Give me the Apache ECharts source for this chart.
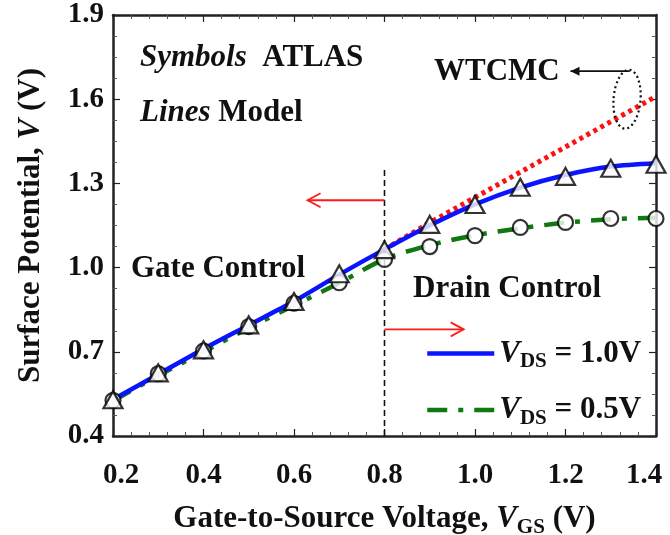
<!DOCTYPE html>
<html>
<head>
<meta charset="utf-8">
<script src="https://cdn.jsdelivr.net/npm/echarts@6/dist/echarts.min.js"></script>
<style>
html,body{margin:0;padding:0;background:#fff;}
#c{width:670px;height:535px;}
</style>
</head>
<body>
<div id="c"></div>
<script>
// ---- data ----
var vgs = [0.2,0.3,0.4,0.5,0.6,0.7,0.8,0.9,1.0,1.1,1.2,1.3,1.4];
var atlasVds10 = [0.529,0.625,0.707,0.796,0.879,0.978,1.064,1.154,1.225,1.286,1.325,1.354,1.368];
var atlasVds05 = [0.527,0.622,0.703,0.790,0.873,0.946,1.029,1.075,1.114,1.143,1.161,1.175,1.175];
var modelVds10 = [0.530,0.620,0.710,0.795,0.880,0.975,1.065,1.150,1.225,1.285,1.330,1.360,1.372];
var modelVds05 = [0.525,0.615,0.700,0.785,0.865,0.945,1.030,1.080,1.115,1.140,1.160,1.172,1.178];
var wtcmcVgs = [0.8,0.9,1.0,1.1,1.2,1.3,1.4];
var wtcmcVal = [1.065,1.160,1.250,1.340,1.430,1.520,1.610];
var xTicks = [0.2,0.4,0.6,0.8,1.0,1.2,1.4];
var yTicks = [0.4,0.7,1.0,1.3,1.6,1.9];
// annotation anchors (data units)
var dividerX = 0.8, dividerY = [0.4, 1.35];
var gateArrow = {y: 1.24, from: 0.8, to: 0.63};
var drainArrow = {y: 0.78, from: 0.8, to: 0.975};
var wtcmcArrow = {y: 1.70, from: 1.342, to: 1.211};
var wtcmcEllipse = {x: 1.336, y: 1.60};

function pairs(xs, ys){ return xs.map(function(x,i){ return [x, ys[i]]; }); }

var FONT = 'Liberation Serif';
var chart = echarts.init(document.getElementById('c'), null, {renderer:'canvas'});

var axisCommon = {
  axisLine:{show:true, onZero:false, lineStyle:{color:'#222', width:2.5}},
  axisTick:{show:true, inside:true, length:7, lineStyle:{color:'#222', width:1.2}},
  splitLine:{show:false}
};

var richName = {
  b:{fontFamily:FONT, fontWeight:'bold', fontSize:31, color:'#111', lineHeight:38},
  i:{fontFamily:FONT, fontWeight:'bold', fontStyle:'italic', fontSize:31, color:'#111', lineHeight:38},
  s:{fontFamily:FONT, fontWeight:'bold', fontSize:21, color:'#111', lineHeight:21, verticalAlign:'bottom'}
};
var tickRich = {
  n:{fontFamily:FONT, fontWeight:'bold', fontSize:29, color:'#111'},
  l:{fontFamily:FONT, fontWeight:'bold', fontSize:29, color:'#111', padding:[0,0,0,16]},
  r:{fontFamily:FONT, fontWeight:'bold', fontSize:29, color:'#111', padding:[0,24,0,0]}
};

var option = {
  animation:false,
  backgroundColor:'#fff',
  grid:{left:113, right:14, top:15, bottom:99, containLabel:false, outerBoundsMode:'none'},
  xAxis:[
    Object.assign({}, axisCommon, {
      type:'value', min:xTicks[0], max:xTicks[xTicks.length-1], interval:0.2,
      minorTick:{show:true, splitNumber:5, length:4, lineStyle:{color:'#555', width:1}},
      axisLabel:{margin:25, fontFamily:FONT, fontWeight:'bold', fontSize:29, color:'#111', rich:tickRich,
        formatter:function(v){
          var t = v.toFixed(1);
          if (Math.abs(v - xTicks[0]) < 1e-6) return '{l|' + t + '}';
          if (Math.abs(v - xTicks[xTicks.length-1]) < 1e-6) return '{r|' + t + '}';
          return '{n|' + t + '}';
        }},
      name:'{b|Gate-to-Source Voltage, }{i|V}{s|GS}{b| (V)}',
      nameLocation:'middle', nameGap:64,
      nameTextStyle:{rich:richName}
    }),
    Object.assign({}, axisCommon, {
      type:'value', position:'top', min:xTicks[0], max:xTicks[xTicks.length-1], interval:0.2,
      minorTick:{show:true, splitNumber:5, length:4, lineStyle:{color:'#555', width:1}},
      axisLabel:{show:false}
    })
  ],
  yAxis:[
    Object.assign({}, axisCommon, {
      type:'value', min:yTicks[0], max:yTicks[yTicks.length-1], interval:0.3,
      minorTick:{show:true, splitNumber:4, length:4, lineStyle:{color:'#555', width:1}},
      axisLabel:{margin:9, fontFamily:FONT, fontWeight:'bold', fontSize:29, color:'#111',
        formatter:function(v){ return v.toFixed(1); }},
      name:'{b|Surface Potential, }{i|V}{b| (V)}',
      nameLocation:'middle', nameGap:63, nameRotate:90,
      nameTextStyle:{rich:richName}
    }),
    Object.assign({}, axisCommon, {
      type:'value', position:'right', min:yTicks[0], max:yTicks[yTicks.length-1], interval:0.3,
      minorTick:{show:true, splitNumber:4, length:4, lineStyle:{color:'#555', width:1}},
      axisLabel:{show:false}
    })
  ],
  legend:{
    orient:'vertical', left:420, top:333, itemWidth:67, itemHeight:14, itemGap:22,
    data:['m10','m05'],
    itemStyle:{opacity:0},
    lineStyle:{width:4.5},
    formatter:function(n){
      return n === 'm10' ? '{i|V}{s|DS}{b| = 1.0V}' : '{i|V}{s|DS}{b| = 0.5V}';
    },
    textStyle:{rich:richName}
  },
  series:[
    {name:'wtcmc', type:'line', data:pairs(wtcmcVgs, wtcmcVal), showSymbol:false, symbol:'none',
      lineStyle:{color:'#ff1010', width:5, type:[4,4]}, z:3},
    {name:'m05', type:'line', data:pairs(vgs, modelVds05), smooth:0.3, showSymbol:false, symbol:'none',
      lineStyle:{color:'#117711', width:4.5, type:[20,11,5,11]}, itemStyle:{color:'#117711'}, z:4},
    {name:'m10', type:'line', data:pairs(vgs, modelVds10), smooth:0.3, showSymbol:false, symbol:'none',
      lineStyle:{color:'#0a14ff', width:4.5}, itemStyle:{color:'#0a14ff'}, z:5},
    {name:'divider', type:'line', data:[[dividerX, dividerY[0]],[dividerX, dividerY[1]]], symbol:'none',
      lineStyle:{color:'#111', width:1.6, type:[6,4]}, z:2},
    {name:'a05', type:'scatter', data:pairs(vgs, atlasVds05), symbol:'circle', symbolSize:15,
      itemStyle:{color:'#fff', borderColor:'#000', borderWidth:2.2}, z:6},
    {name:'a10', type:'scatter', data:pairs(vgs, atlasVds10), symbol:'triangle', symbolSize:[19,17],
      itemStyle:{color:'#fff', borderColor:'#000', borderWidth:2.2}, z:7}
  ]
};
chart.setOption(option);

function px(x, y){ return chart.convertToPixel({xAxisIndex:0, yAxisIndex:0}, [x, y]); }

function hArrow(a, color, filled){
  var p0 = px(a.from, a.y), p1 = px(a.to, a.y);
  var dir = p1[0] < p0[0] ? 1 : -1; // head opens back toward start
  var els = [{type:'line', shape:{x1:p0[0], y1:p0[1], x2:p1[0], y2:p1[1]}, style:{stroke:color, lineWidth:1.8}, z:20}];
  if (filled) {
    els.push({type:'polygon', shape:{points:[[p1[0],p1[1]],[p1[0]+dir*9,p1[1]-4.5],[p1[0]+dir*9,p1[1]+4.5]]}, style:{fill:color}, z:20});
  } else {
    els.push({type:'polyline', shape:{points:[[p1[0]+dir*13,p1[1]-7],[p1[0],p1[1]],[p1[0]+dir*13,p1[1]+7]]}, style:{stroke:color, lineWidth:1.8, fill:null}, z:20});
  }
  return els;
}

var ec = px(wtcmcEllipse.x, wtcmcEllipse.y);
var textStyleBase = {fontFamily:FONT, fontWeight:'bold', fontSize:31, fill:'#111'};
var richTxt = {
  i:{fontFamily:FONT, fontWeight:'bold', fontStyle:'italic', fontSize:31, fill:'#111'},
  b:{fontFamily:FONT, fontWeight:'bold', fontSize:31, fill:'#111'}
};
var graphics = [].concat(
  hArrow(gateArrow, '#ff1a1a', false),
  hArrow(drainArrow, '#ff1a1a', false),
  hArrow(wtcmcArrow, '#111', true),
  [
    {type:'ellipse', shape:{cx:0, cy:0, rx:13.5, ry:29.5}, x:ec[0], y:ec[1], rotation:-0.08,
      style:{fill:null, stroke:'#111', lineWidth:2.2, lineDash:[2,3]}, z:20},
    {type:'text', left:140, top:42, style:{text:'{i|Symbols}{b|  ATLAS}', rich:richTxt}, z:20},
    {type:'text', left:140, top:97, style:{text:'{i|Lines}{b| Model}', rich:richTxt}, z:20},
    {type:'text', left:434, top:56, style:Object.assign({text:'WTCMC'}, textStyleBase), z:20},
    {type:'text', left:131, top:253, style:Object.assign({text:'Gate Control'}, textStyleBase), z:20},
    {type:'text', left:413, top:273, style:Object.assign({text:'Drain Control'}, textStyleBase), z:20}
  ]
);
chart.setOption({graphic:graphics});
</script>
</body>
</html>
